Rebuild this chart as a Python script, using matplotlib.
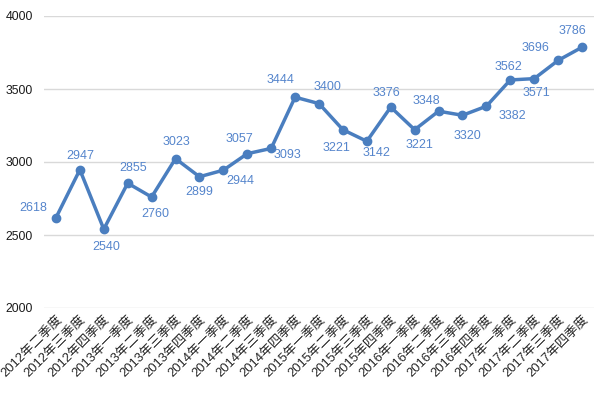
import matplotlib
matplotlib.use("Agg")
import matplotlib.pyplot as plt
from matplotlib.transforms import ScaledTranslation

plt.rcParams['font.family'] = ['Liberation Sans', 'Noto Sans CJK SC', 'DejaVu Sans']

categories = ["2012年二季度", "2012年三季度", "2012年四季度",
              "2013年一季度", "2013年二季度", "2013年三季度", "2013年四季度",
              "2014年一季度", "2014年二季度", "2014年三季度", "2014年四季度",
              "2015年一季度", "2015年二季度", "2015年三季度", "2015年四季度",
              "2016年一季度", "2016年二季度", "2016年三季度", "2016年四季度",
              "2017年一季度", "2017年二季度", "2017年三季度", "2017年四季度"]
values = [2618, 2947, 2540, 2855, 2760, 3023, 2899, 2944, 3057, 3093, 3444,
          3400, 3221, 3142, 3376, 3221, 3348, 3320, 3382, 3562, 3571, 3696, 3786]
y_ticks = [2000, 2500, 3000, 3500, 4000]

# label offsets (pixels) for data labels
label_offsets = [(-23, 10), (0, 14), (2, -18), (5, 15), (4, -17), (1, 17), (0, -15),
                 (17, -11), (-8, 15), (16, -7), (-15, 17), (8, 17), (-6, -18),
                 (10, -12), (-4, 14), (5, -15), (-12, 10), (5, -21), (26, -10),
                 (-2, 13), (2, -14), (-23, 12), (-10, 16)]

line_color = "#4a7ebf"
label_color = "#5585cc"

fig = plt.figure(figsize=(6.01, 3.93), dpi=100)
ax = fig.add_axes([44/601, 1-308/393, (594-44)/601, (308-16)/393])

x = list(range(len(values)))
ax.plot(x, values, color=line_color, lw=2.5, marker='o', ms=6, zorder=3)

for xi, v, (dx, dy) in zip(x, values, label_offsets):
    ax.annotate(str(v), (xi, v), xytext=(dx, dy), textcoords='offset pixels',
                ha='center', va='center', fontsize=9, color=label_color)

ax.set_xlim(-0.5, len(values) - 0.5)
ax.set_ylim(2000, 4000)
ax.set_yticks(y_ticks)
ax.set_yticklabels([str(t) for t in y_ticks], fontsize=8.8, color="#1a1a1a")
ax.set_xticks(x)
ax.set_xticklabels(categories, rotation=45, ha='right', va='top',
                   rotation_mode='anchor', fontsize=9.4, color="#262626")
shift = ScaledTranslation(6/100, -6/100, fig.dpi_scale_trans)
for lbl in ax.get_xticklabels():
    lbl.set_transform(lbl.get_transform() + shift)
ax.tick_params(axis='both', length=0)
ax.tick_params(axis='y', pad=8)
ax.tick_params(axis='x', pad=4)
ax.grid(axis='y', color="#d9d9d9", lw=1)
ax.set_axisbelow(True)
for s in ax.spines.values():
    s.set_visible(False)

fig.savefig("out.png", dpi=100)
